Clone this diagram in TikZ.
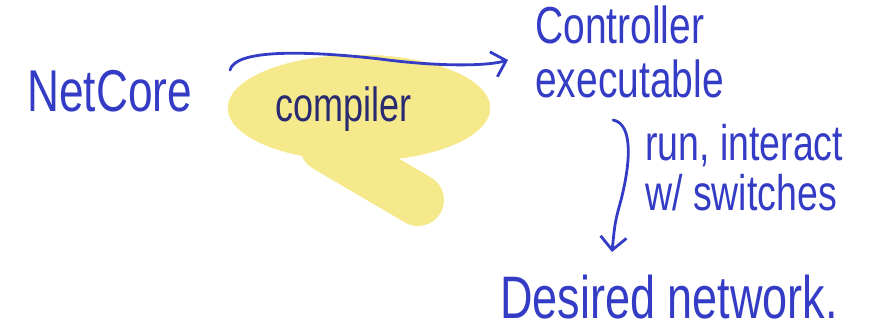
\documentclass[tikz,border=0pt]{standalone}
\usepackage{fontspec}
\newfontfamily\handfont[FakeStretch=0.75]{Liberation Sans}
\usetikzlibrary{arrows.meta, positioning}
\definecolor{inkblue}{RGB}{52, 60, 198}
\definecolor{inknavy}{RGB}{42, 42, 112}
\definecolor{hiliteyellow}{RGB}{245, 233, 140}

\tikzset{
  hand/.style={inner sep=0pt, text=inkblue, align=left, font=\handfont},
  inkarrow/.style={draw=inkblue, line width=2.8pt, line cap=round,
    -{Straight Barb[length=13pt, width=26pt, line width=2.8pt]}},
  hilite/.style={fill=hiliteyellow, draw=hiliteyellow}
}

\begin{document}
\begin{tikzpicture}[x=1pt, y=-1pt]
  \useasboundingbox (0,0) rectangle (884,331);

  % highlighter blob behind the compiler label
  \fill[hilite] (359,108) ellipse [x radius=131, y radius=53];
  \draw[hilite, line width=52pt, line cap=round] (326,146) -- (418,200);

  % labels
  \node[hand, anchor=base west, font=\handfont\fontsize{59}{59}\selectfont] (netcore) at (27,112) {NetCore};
  \node[hand, anchor=base west, text=inknavy, font=\handfont\fontsize{48}{48}\selectfont] (compiler) at (275,122) {compiler};
  \node[hand, anchor=north west, font=\handfont\fontsize{52}{54}\selectfont] (ctrl) at (535,6) {Controller\\executable};
  \node[hand, anchor=north west, font=\handfont\fontsize{50}{50}\selectfont] (run) at (645,124) {run, interact\\w/ switches};
  \node[hand, anchor=base west, font=\handfont\fontsize{60}{60}\selectfont] (desired) at (500,318) {Desired network.};

  % connectors
  \coordinate (compile start) at (230,70);
  \coordinate (compile end) at (508,60);
  \coordinate (run start) at (613,120);
  \coordinate (run end) at (612,252);
  \draw[inkarrow] (compile start) .. controls (235,50) and (300,50) .. (380,59)
    .. controls (440,67) and (488,66) .. (compile end);
  \draw[inkarrow] (run start) .. controls (634,124) and (630,165) .. (621,200)
    .. controls (615,222) .. (run end);
\end{tikzpicture}
\end{document}
